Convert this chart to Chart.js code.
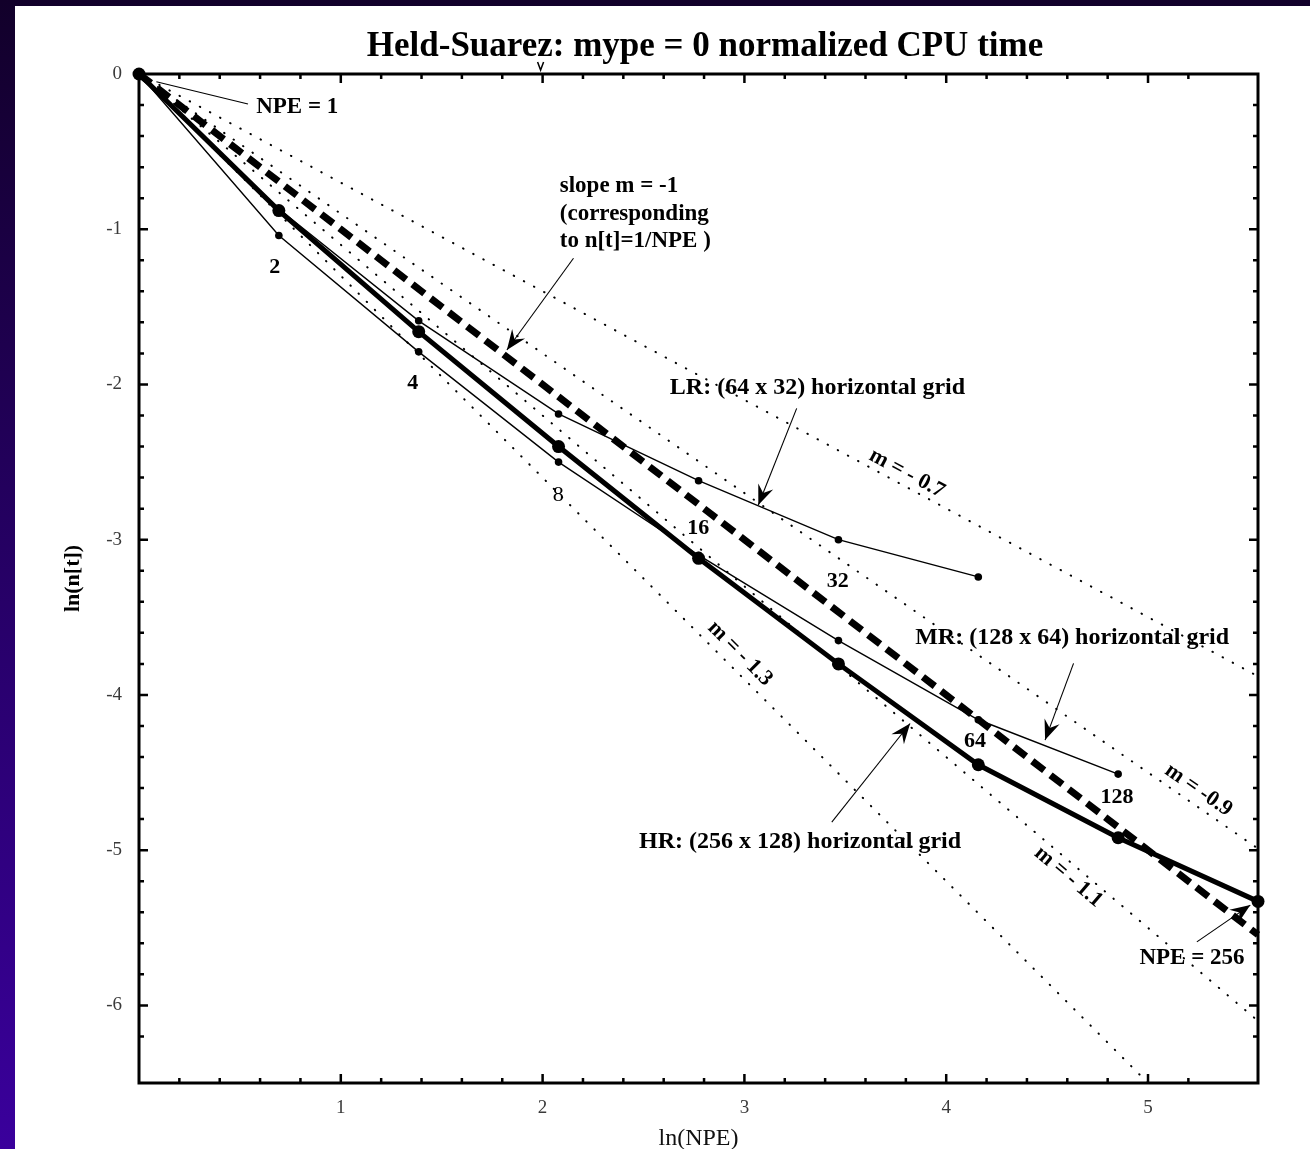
<!DOCTYPE html>
<html>
<head>
<meta charset="utf-8">
<title>Held-Suarez: mype = 0 normalized CPU time</title>
<script src="https://cdn.jsdelivr.net/npm/chart.js@4.4.1/dist/chart.umd.min.js"></script>
<style>
  html, body { margin: 0; padding: 0; }
  body {
    width: 1310px; height: 1149px; overflow: hidden; position: relative;
    background: linear-gradient(to bottom, #12002a 0%, #240060 45%, #3a009c 100%);
  }
  #wrap { position: absolute; left: 15px; top: 6px; width: 1295px; height: 1143px; background: #fff; }
</style>
</head>
<body>
<div id="wrap"><canvas id="chart" width="1295" height="1143"></canvas></div>
<script>
// Held-Suarez timing: ln(NPE) on x, ln(normalized CPU time) on y

const npeValues = ['1', '2', '4', '8', '16', '32', '64', '128', '256'];
const lnNPE = [0, 0.693, 1.386, 2.079, 2.773, 3.466, 4.159, 4.852, 5.545];

const hrTime = [0, -0.88, -1.66, -2.40, -3.12, -3.80, -4.45, -4.92, -5.33];
const mrTime = [0, -1.04, -1.79, -2.50, -3.10, -3.65, -4.16, -4.51];
const lrTime = [0, -0.87, -1.59, -2.19, -2.62, -3.00, -3.24];

// ideal scaling, slope m = -1
const idealX = [0, 5.545];
const idealY = [0, -5.545];

// dotted reference slopes, from the origin to the plot edge
const refLabels = ['m = - 0.7', 'm = -0.9', 'm = - 1.1', 'm = - 1.3'];
const refEndX = [5.545, 5.545, 5.545, 5.0];
const refEndY = [-3.88, -4.99, -6.10, -6.5];

const xTickLabels = ['1', '2', '3', '4', '5'];
const yTickLabels = ['0', '-1', '-2', '-3', '-4', '-5', '-6'];

const FONT = '"Liberation Serif", "Times New Roman", serif';

function points(xs, ys) {
    return ys.map((y, i) => ({ x: xs[i], y: y }));
}

// text placed in data coordinates
const notes = [
    { text: 'NPE = 1', x: 0.784, y: -0.213, size: 23 },
    { text: '2', x: 0.673, y: -1.244, size: 22 },
    { text: '4', x: 1.357, y: -1.993, size: 22 },
    { text: '8', x: 2.077, y: -2.713, size: 22, bold: false },
    { text: '16', x: 2.771, y: -2.927, size: 22 },
    { text: '32', x: 3.463, y: -3.271, size: 22 },
    { text: '64', x: 4.143, y: -4.298, size: 22 },
    { text: '128', x: 4.846, y: -4.660, size: 22 },
    { text: 'NPE = 256', x: 5.218, y: -5.698, size: 23 },
    { text: 'slope m = -1', x: 2.085, y: -0.722, size: 23, align: 'left' },
    { text: '(corresponding', x: 2.085, y: -0.902, size: 23, align: 'left' },
    { text: 'to n[t]=1/NPE )', x: 2.085, y: -1.076, size: 23, align: 'left' },
    { text: 'LR: (64 x 32) horizontal grid', x: 3.362, y: -2.023, size: 24 },
    { text: 'MR: (128 x 64) horizontal grid', x: 4.624, y: -3.634, size: 24 },
    { text: 'HR: (256 x 128) horizontal grid', x: 3.276, y: -4.948, size: 24 }
];

const slopeNotePos = [
    { x: 3.805, y: -2.573 },
    { x: 5.250, y: -4.613 },
    { x: 4.606, y: -5.172 },
    { x: 2.978, y: -3.733 }
];

const arrows = [
    { from: [0.086, -0.050], to: [0.540, -0.193], head: false },
    { from: [2.153, -1.187], to: [1.823, -1.778], head: true },
    { from: [3.259, -2.154], to: [3.069, -2.777], head: true },
    { from: [4.631, -3.797], to: [4.490, -4.291], head: true },
    { from: [3.433, -4.820], to: [3.821, -4.184], head: true },
    { from: [5.242, -5.591], to: [5.507, -5.354], head: true }
];

function isInt(v) {
    return Math.abs(v - Math.round(v)) < 1e-6;
}

function drawArrow(ctx, x1, y1, x2, y2, head) {
    ctx.beginPath();
    ctx.moveTo(x1, y1);
    ctx.lineTo(x2, y2);
    ctx.lineWidth = 1.1;
    ctx.stroke();
    if (!head) return;
    const ang = Math.atan2(y2 - y1, x2 - x1);
    const c = Math.cos(ang), s = Math.sin(ang);
    const L = 20, W = 8, notch = 13;
    const bx = x2 - L * c, by = y2 - L * s;
    const nx = x2 - notch * c, ny = y2 - notch * s;
    ctx.beginPath();
    ctx.moveTo(x2, y2);
    ctx.lineTo(bx - W * s, by + W * c);
    ctx.lineTo(nx, ny);
    ctx.lineTo(bx + W * s, by - W * c);
    ctx.closePath();
    ctx.fill();
}

const decorPlugin = {
    id: 'decor',
    afterDatasetsDraw(chart) {
        const ctx = chart.ctx;
        const area = chart.chartArea;
        const xs = chart.scales.x, ys = chart.scales.y;
        ctx.save();
        ctx.strokeStyle = '#000';
        ctx.fillStyle = '#000';

        // frame
        ctx.lineWidth = 3;
        ctx.strokeRect(area.left, area.top, area.right - area.left, area.bottom - area.top);

        // inward ticks on all four sides
        ctx.lineWidth = 2.5;
        xs.ticks.forEach(t => {
            const px = xs.getPixelForValue(t.value);
            if (px <= area.left + 1 || px >= area.right - 1) return;
            const len = isInt(t.value) ? 9 : 5;
            ctx.beginPath();
            ctx.moveTo(px, area.bottom); ctx.lineTo(px, area.bottom - len);
            ctx.moveTo(px, area.top); ctx.lineTo(px, area.top + len);
            ctx.stroke();
        });
        ys.ticks.forEach(t => {
            const py = ys.getPixelForValue(t.value);
            if (py <= area.top + 1 || py >= area.bottom - 1) return;
            const len = isInt(t.value) ? 9 : 5;
            ctx.beginPath();
            ctx.moveTo(area.left, py); ctx.lineTo(area.left + len, py);
            ctx.moveTo(area.right, py); ctx.lineTo(area.right - len, py);
            ctx.stroke();
        });

        // small marker above the top axis
        const vx = xs.getPixelForValue(1.99);
        ctx.lineWidth = 1.5;
        ctx.beginPath();
        ctx.moveTo(vx - 3, area.top - 12);
        ctx.lineTo(vx, area.top - 4);
        ctx.lineTo(vx + 3, area.top - 12);
        ctx.stroke();

        // arrows
        arrows.forEach(a => {
            drawArrow(ctx,
                xs.getPixelForValue(a.from[0]), ys.getPixelForValue(a.from[1]),
                xs.getPixelForValue(a.to[0]), ys.getPixelForValue(a.to[1]), a.head);
        });

        // labels
        ctx.textBaseline = 'middle';
        notes.forEach(n => {
            ctx.font = (n.bold === false ? '' : 'bold ') + n.size + 'px ' + FONT;
            ctx.textAlign = n.align || 'center';
            ctx.fillText(n.text, xs.getPixelForValue(n.x), ys.getPixelForValue(n.y));
        });

        // slope labels, rotated along their reference line
        refLabels.forEach((label, i) => {
            const ang = Math.atan2(
                ys.getPixelForValue(refEndY[i]) - ys.getPixelForValue(0),
                xs.getPixelForValue(refEndX[i]) - xs.getPixelForValue(0));
            ctx.save();
            ctx.translate(xs.getPixelForValue(slopeNotePos[i].x), ys.getPixelForValue(slopeNotePos[i].y));
            ctx.rotate(ang);
            ctx.font = 'bold 22px ' + FONT;
            ctx.textAlign = 'center';
            ctx.fillText(label, 0, 0);
            ctx.restore();
        });

        // title
        ctx.font = 'bold 35px ' + FONT;
        ctx.textAlign = 'center';
        ctx.textBaseline = 'alphabetic';
        ctx.fillText('Held-Suarez: mype = 0 normalized CPU time', 690, 50);
        ctx.restore();
    }
};

const refDatasets = refLabels.map((label, i) => ({
    label: label,
    data: points([0, refEndX[i]], [0, refEndY[i]]),
    showLine: true,
    borderColor: '#000',
    borderWidth: 2,
    borderDash: [0.5, 11],
    borderCapStyle: 'round',
    pointRadius: 0,
    clip: false
}));

new Chart(document.getElementById('chart'), {
    type: 'scatter',
    data: {
        datasets: [
            {
                label: 'HR: (256 x 128)',
                data: points(lnNPE, hrTime),
                showLine: true,
                borderColor: '#000',
                borderWidth: 5,
                pointRadius: 6.5,
                pointBackgroundColor: '#000',
                pointBorderWidth: 0,
                clip: false
            },
            {
                label: 'MR: (128 x 64)',
                data: points(lnNPE, mrTime),
                showLine: true,
                borderColor: '#000',
                borderWidth: 1.4,
                pointRadius: 3.8,
                pointBackgroundColor: '#000',
                pointBorderWidth: 0,
                clip: false
            },
            {
                label: 'LR: (64 x 32)',
                data: points(lnNPE, lrTime),
                showLine: true,
                borderColor: '#000',
                borderWidth: 1.4,
                pointRadius: 3.8,
                pointBackgroundColor: '#000',
                pointBorderWidth: 0,
                clip: false
            },
            {
                label: 'slope m = -1',
                data: points(idealX, idealY),
                showLine: true,
                borderColor: '#000',
                borderWidth: 7,
                borderDash: [15, 8],
                pointRadius: 0,
                clip: false
            },
            ...refDatasets
        ]
    },
    options: {
        responsive: false,
        devicePixelRatio: 1,
        animation: false,
        layout: { padding: { left: 0, top: 68, right: 52, bottom: 0 } },
        plugins: {
            legend: { display: false },
            tooltip: { enabled: false },
            title: { display: false }
        },
        scales: {
            x: {
                type: 'linear',
                min: 0,
                max: 5.545,
                grid: { display: false, drawTicks: false },
                border: { display: false },
                ticks: {
                    stepSize: 0.2,
                    autoSkip: false,
                    maxRotation: 0,
                    padding: 14,
                    color: '#3a3a3a',
                    font: { family: FONT, size: 19 },
                    callback: v => {
                        const lbl = String(Math.round(v));
                        return isInt(v) && xTickLabels.includes(lbl) ? lbl : '';
                    }
                },
                title: {
                    display: true,
                    text: 'ln(NPE)',
                    color: '#111',
                    font: { family: FONT, size: 24 },
                    padding: { top: 0, bottom: -4 }
                },
                afterFit: s => { s.height = 66; }
            },
            y: {
                type: 'linear',
                min: -6.5,
                max: 0,
                grid: { display: false, drawTicks: false },
                border: { display: false },
                ticks: {
                    stepSize: 0.2,
                    autoSkip: false,
                    padding: 17,
                    color: '#3a3a3a',
                    font: { family: FONT, size: 19 },
                    callback: v => {
                        const lbl = String(Math.round(v));
                        return isInt(v) && yTickLabels.includes(lbl) ? lbl : '';
                    }
                },
                title: {
                    display: true,
                    text: 'ln(n[t])',
                    color: '#000',
                    font: { family: FONT, size: 22, weight: 'bold' },
                    padding: { top: 45, bottom: 0 }
                },
                afterFit: s => { s.width = 124; }
            }
        }
    },
    plugins: [decorPlugin]
});
</script>
</body>
</html>
